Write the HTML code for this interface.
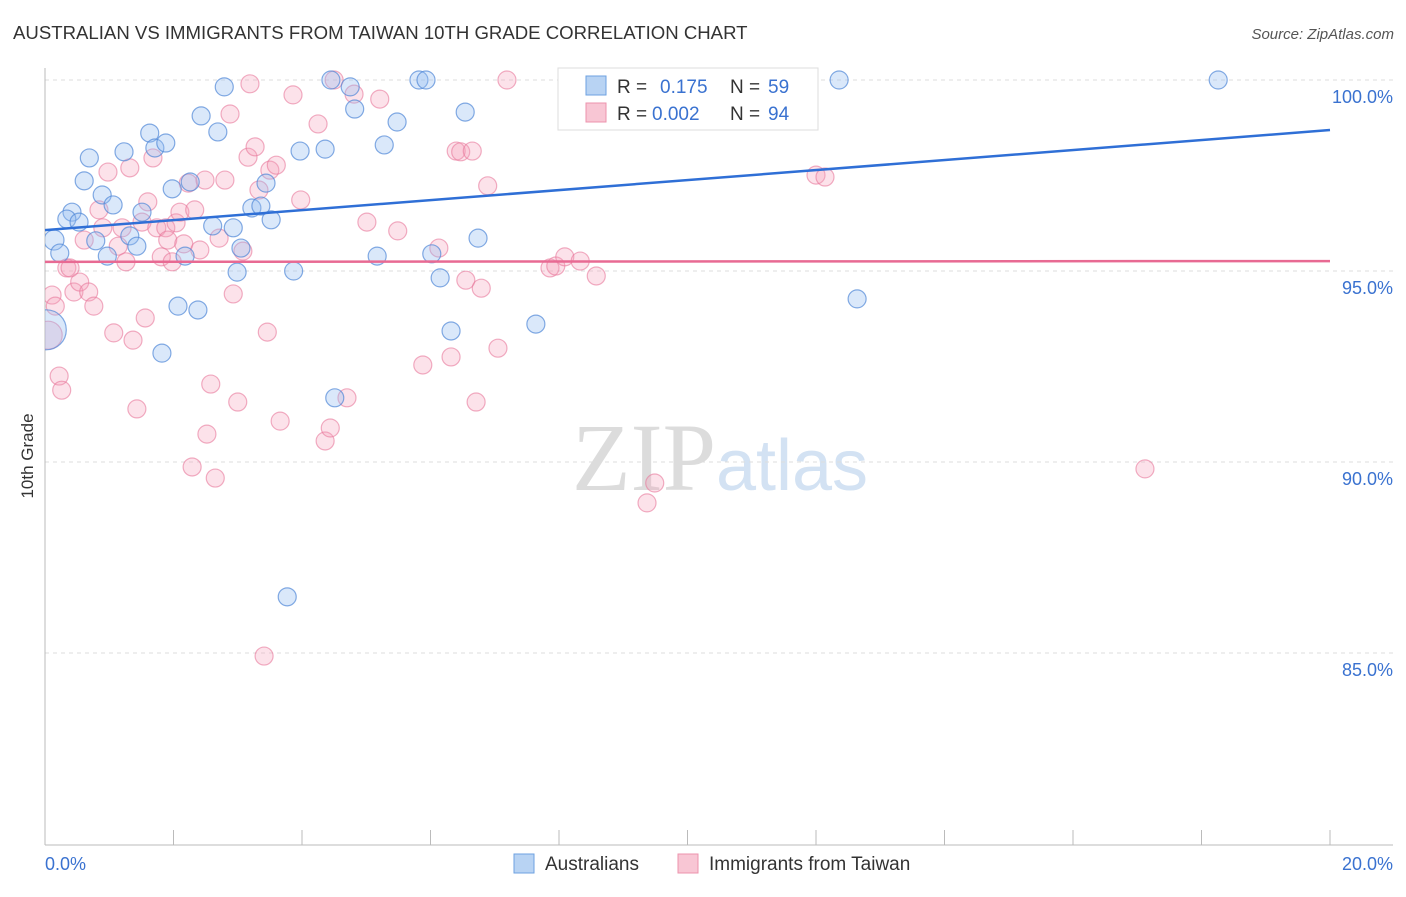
<!DOCTYPE html>
<html><head><meta charset="utf-8"><style>
body{margin:0;background:#fff;font-family:"Liberation Sans",sans-serif;}
svg text{font-family:"Liberation Sans",sans-serif;}
</style></head><body>
<svg id="chart" width="1406" height="892" viewBox="0 0 1406 892" xmlns="http://www.w3.org/2000/svg">
<defs><clipPath id="plotclip"><rect x="45" y="60" width="1360" height="785"/></clipPath></defs>
<text x="13" y="39" font-size="18.6" fill="#333">AUSTRALIAN VS IMMIGRANTS FROM TAIWAN 10TH GRADE CORRELATION CHART</text>
<text x="1394" y="39" font-size="15" fill="#555" text-anchor="end" font-style="italic">Source: ZipAtlas.com</text>
<text x="720" y="490" font-size="96" text-anchor="middle"><tspan fill="#dcdcdc" font-family="Liberation Serif">ZIP</tspan><tspan fill="#d3e2f3" font-size="72">atlas</tspan></text>
<g id="grid"></g>
<g id="axes"></g>
<g id="pts" clip-path="url(#plotclip)"></g>
<g id="trends"></g>
<text transform="translate(33,456) rotate(-90)" font-size="17" fill="#333" text-anchor="middle">10th Grade</text>
<g>
<rect x="558" y="68" width="260" height="62" fill="#fff" stroke="#ddd"/>
<rect x="586" y="76" width="20" height="19" fill="#b8d3f3" stroke="#6ea1e0"/>
<rect x="586" y="103" width="20" height="19" fill="#f8c6d4" stroke="#ec93ad"/>
<text x="617" y="93" font-size="19" fill="#333">R = </text><text x="660" y="93" font-size="19" fill="#3a72d0">0.175</text>
<text x="730" y="93" font-size="19" fill="#333">N = </text><text x="768" y="93" font-size="19" fill="#3a72d0">59</text>
<text x="617" y="120" font-size="19" fill="#333">R = </text><text x="652" y="120" font-size="19" fill="#3a72d0">0.002</text>
<text x="730" y="120" font-size="19" fill="#333">N = </text><text x="768" y="120" font-size="19" fill="#3a72d0">94</text>
</g>
<g>
<rect x="514" y="854" width="20" height="19" fill="#b8d3f3" stroke="#6ea1e0"/>
<text x="545" y="870" font-size="19" fill="#333">Australians</text>
<rect x="678" y="854" width="20" height="19" fill="#f8c6d4" stroke="#ec93ad"/>
<text x="709" y="870" font-size="19" fill="#333">Immigrants from Taiwan</text>
</g>
</svg>
<script>
const blueX=[0.14,0.23,0.42,0.34,0.53,0.61,0.69,0.79,0.89,0.97,1.06,1.23,1.32,1.43,1.51,1.63,1.71,1.82,1.88,1.98,2.07,2.18,2.26,2.38,2.43,2.61,2.69,2.79,2.93,2.99,3.05,3.22,3.36,3.44,3.52,3.77,3.87,3.97,4.36,4.45,4.51,4.75,4.82,5.17,5.28,5.48,5.82,5.93,6.02,6.15,6.32,6.54,6.74,7.64,12.36,12.64,18.26,0.02];
const blueY=[95.81,95.47,96.54,96.36,96.28,97.36,97.96,95.79,96.99,95.39,96.73,98.12,95.92,95.65,96.54,98.61,98.22,92.85,98.35,97.15,94.08,95.39,97.33,93.98,99.06,96.18,98.64,99.82,96.13,94.97,95.60,96.65,96.70,97.30,96.34,86.47,95.00,98.14,98.19,100,91.68,99.82,99.24,95.39,98.30,98.90,100,100,95.45,94.82,93.43,99.16,95.86,93.61,100,94.27,100,93.46];
const blueR=[10,9,9,9,9,9,9,9,9,9,9,9,9,9,9,9,9,9,9,9,9,9,9,9,9,9,9,9,9,9,9,9,9,9,9,9,9,9,9,9,9,9,9,9,9,9,9,9,9,9,9,9,9,9,9,9,9,20];
const pinkX=[0.05,0.11,0.16,0.22,0.26,0.34,0.39,0.45,0.54,0.61,0.68,0.76,0.84,0.90,0.98,1.07,1.14,1.20,1.26,1.32,1.37,1.43,1.51,1.56,1.60,1.68,1.74,1.81,1.88,1.91,1.98,2.04,2.10,2.16,2.23,2.29,2.33,2.41,2.49,2.52,2.58,2.65,2.71,2.80,2.88,2.93,3.00,3.08,3.16,3.27,3.33,3.41,3.46,3.50,3.60,3.66,3.86,3.98,4.25,4.36,4.44,4.50,4.70,4.81,5.01,5.21,5.49,5.88,6.13,6.32,6.40,6.47,6.55,6.65,6.71,6.79,6.89,7.05,7.19,7.86,7.95,8.09,8.33,8.58,9.37,9.49,11.77,12.00,12.14,17.12,3.19];
const pinkY=[93.32,94.37,94.08,92.25,91.88,95.08,95.08,94.45,94.71,95.81,94.45,94.08,96.60,96.13,97.59,93.38,95.65,96.13,95.24,97.70,93.19,91.39,96.28,93.77,96.81,97.96,96.13,95.37,96.13,95.81,95.24,96.26,96.54,95.71,97.30,89.87,96.60,95.55,97.38,90.73,92.04,89.58,95.86,97.38,99.11,94.40,91.57,95.52,97.98,98.25,97.12,84.92,93.40,97.64,97.77,91.07,99.61,96.86,98.85,90.55,90.89,100,91.68,99.63,96.28,99.50,96.05,92.54,95.60,92.75,98.14,98.12,94.76,98.14,91.57,94.55,97.23,92.98,100,95.08,95.13,95.37,95.26,94.87,88.93,89.45,100,97.51,97.46,89.82,99.90];
const yTicks=[100,95,90,85];
const yTickLabels=["100.0%","95.0%","90.0%","85.0%"];
const xTicks=[0,2,4,6,8,10,12,14,16,18,20];
const blueTrend=[96.07,98.69];
const pinkTrend=[95.24,95.26];
const X=v=>45+v/20*1285;
const Y=v=>80+(100-v)*38.2;
const NS="http://www.w3.org/2000/svg";
function mk(tag,attrs,parent){const e=document.createElementNS(NS,tag);for(const k in attrs)e.setAttribute(k,attrs[k]);parent.appendChild(e);return e;}
const grid=document.getElementById('grid'),axes=document.getElementById('axes'),pts=document.getElementById('pts'),tr=document.getElementById('trends');
yTicks.forEach((t,i)=>{
 const l=mk('line',{x1:45,x2:1393,y1:Y(t),y2:Y(t),stroke:'#ddd','stroke-dasharray':'4,4'},grid);
 
 
 const tx=mk('text',{x:1393,y:Y(t)+23,'font-size':18,fill:'#3a72d0','text-anchor':'end'},axes);
 tx.textContent=yTickLabels[i];
 
 
});
let a=mk('line',{x1:45,x2:45,y1:68,y2:845,stroke:'#bbb'},axes);


a=mk('line',{x1:45,x2:1393,y1:845,y2:845,stroke:'#bbb'},axes);


xTicks.forEach(t=>{
 const l=mk('line',{x1:X(t),x2:X(t),y1:830,y2:845,stroke:'#bbb'},axes);
 
 
});
let xl=mk('text',{x:45,y:870,'font-size':18,fill:'#3a72d0'},axes);xl.textContent='0.0%';


xl=mk('text',{x:1393,y:870,'font-size':18,fill:'#3a72d0','text-anchor':'end'},axes);xl.textContent='20.0%';


pinkX.forEach((x,i)=>{
 const c=mk('circle',{cx:X(x),cy:Y(pinkY[i]),r:i===0?14:9,fill:'rgba(245,160,185,0.3)',stroke:'rgba(232,120,155,0.6)','stroke-width':1.2},pts);
 
 
});
blueX.forEach((x,i)=>{
 const c=mk('circle',{cx:X(x),cy:Y(blueY[i]),r:blueR[i],fill:'rgba(150,190,240,0.35)',stroke:'rgba(80,135,215,0.7)','stroke-width':1.2},pts);
 
 
});
let t=mk('line',{x1:X(0),x2:X(20),y1:Y(blueTrend[0]),y2:Y(blueTrend[1]),stroke:'#2f6fd6','stroke-width':2.5},tr);


t=mk('line',{x1:X(0),x2:X(20),y1:Y(pinkTrend[0]),y2:Y(pinkTrend[1]),stroke:'#e86a93','stroke-width':2.5},tr);


</script>
</body></html>
